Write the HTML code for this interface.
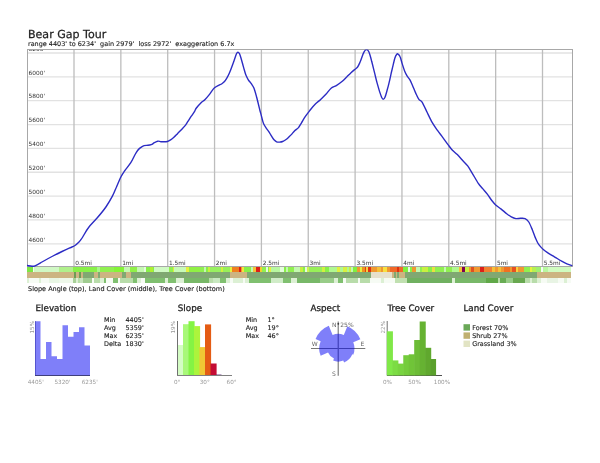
<!DOCTYPE html>
<html><head><meta charset="utf-8"><title>Bear Gap Tour</title>
<style>
html,body{margin:0;padding:0;background:#fff;width:600px;height:463px;overflow:hidden}
#wrap{width:600px;height:463px;will-change:transform}
svg{display:block}
text{font-family:'DejaVu Sans', 'Liberation Sans', sans-serif;text-rendering:geometricPrecision}
</style></head><body>
<div id="wrap"><svg width="600" height="463" viewBox="0 0 600 463">
<rect width="600" height="463" fill="#fff"/>

<text x="28" y="37.9" font-size="11.05" fill="#222" stroke="#222" stroke-width="0.25">Bear Gap Tour</text>
<text x="28" y="46" font-size="6.47" fill="#222" stroke="#222" stroke-width="0.12" xml:space="preserve">range 4403' to 6234'  gain 2979'  loss 2972'  exaggeration 6.7x</text>
<g stroke="#e2e2e2" stroke-width="1.3">
<line x1="27.5" y1="53.00" x2="572.5" y2="53.00"/>
<line x1="27.5" y1="76.85" x2="572.5" y2="76.85"/>
<line x1="27.5" y1="100.70" x2="572.5" y2="100.70"/>
<line x1="27.5" y1="124.55" x2="572.5" y2="124.55"/>
<line x1="27.5" y1="148.40" x2="572.5" y2="148.40"/>
<line x1="27.5" y1="172.25" x2="572.5" y2="172.25"/>
<line x1="27.5" y1="196.10" x2="572.5" y2="196.10"/>
<line x1="27.5" y1="219.95" x2="572.5" y2="219.95"/>
<line x1="27.5" y1="243.80" x2="572.5" y2="243.80"/>
</g>
<g stroke="#bdbdbd" stroke-width="1.3">
<line x1="74.00" y1="49.5" x2="74.00" y2="266.5"/>
<line x1="120.85" y1="49.5" x2="120.85" y2="266.5"/>
<line x1="167.70" y1="49.5" x2="167.70" y2="266.5"/>
<line x1="214.55" y1="49.5" x2="214.55" y2="266.5"/>
<line x1="261.40" y1="49.5" x2="261.40" y2="266.5"/>
<line x1="308.25" y1="49.5" x2="308.25" y2="266.5"/>
<line x1="355.10" y1="49.5" x2="355.10" y2="266.5"/>
<line x1="401.95" y1="49.5" x2="401.95" y2="266.5"/>
<line x1="448.80" y1="49.5" x2="448.80" y2="266.5"/>
<line x1="495.65" y1="49.5" x2="495.65" y2="266.5"/>
<line x1="542.50" y1="49.5" x2="542.50" y2="266.5"/>
</g>
<clipPath id="cp"><rect x="27" y="49.5" width="546" height="218"/></clipPath>
<g font-size="5.85" fill="#333" clip-path="url(#cp)">
<text x="28.6" y="50.70">6200'</text>
<text x="28.6" y="74.55">6000'</text>
<text x="28.6" y="98.40">5800'</text>
<text x="28.6" y="122.25">5600'</text>
<text x="28.6" y="146.10">5400'</text>
<text x="28.6" y="169.95">5200'</text>
<text x="28.6" y="193.80">5000'</text>
<text x="28.6" y="217.65">4800'</text>
<text x="28.6" y="241.50">4600'</text>
</g>
<g font-size="5.85" fill="#333">
<text x="75.30" y="264.7">0.5mi</text>
<text x="122.15" y="264.7">1mi</text>
<text x="169.00" y="264.7">1.5mi</text>
<text x="215.85" y="264.7">2mi</text>
<text x="262.70" y="264.7">2.5mi</text>
<text x="309.55" y="264.7">3mi</text>
<text x="356.40" y="264.7">3.5mi</text>
<text x="403.25" y="264.7">4mi</text>
<text x="450.10" y="264.7">4.5mi</text>
<text x="496.95" y="264.7">5mi</text>
<text x="543.80" y="264.7">5.5mi</text>
</g>
<rect x="27.5" y="49.5" width="545" height="217" fill="none" stroke="#a8a8a8" stroke-width="1"/>
<path d="M27.0,265.5 C27.8,265.6 30.7,266.1 32.0,266.2 C33.3,266.2 33.3,266.5 35.0,265.8 C36.7,265.1 39.2,263.6 42.0,262.0 C44.8,260.4 48.7,258.2 52.0,256.5 C55.3,254.8 58.7,253.1 62.0,251.5 C65.3,249.9 69.8,248.0 72.0,247.0 C74.2,246.0 73.8,246.3 75.0,245.5 C76.2,244.7 78.0,243.0 79.0,242.0 C80.0,241.0 80.4,240.3 81.1,239.4 C81.8,238.5 81.8,238.5 83.0,236.5 C84.2,234.5 86.2,230.6 88.6,227.5 C91.0,224.4 94.4,221.2 97.3,217.8 C100.2,214.4 103.4,210.6 105.9,207.0 C108.4,203.4 110.6,199.6 112.4,196.2 C114.2,192.8 115.3,189.7 116.7,186.4 C118.1,183.2 119.7,179.2 121.0,176.7 C122.3,174.2 122.7,173.6 124.3,171.3 C125.9,169.0 129.0,165.5 130.8,162.7 C132.6,159.9 134.0,156.5 135.1,154.5 C136.2,152.5 136.8,151.6 137.6,150.5 C138.4,149.4 139.1,148.7 140.2,147.9 C141.3,147.1 142.8,146.0 144.1,145.6 C145.4,145.2 146.8,145.5 148.0,145.3 C149.2,145.2 150.1,145.1 151.2,144.7 C152.3,144.3 153.3,143.3 154.4,142.7 C155.5,142.1 156.6,141.4 157.7,141.2 C158.8,141.0 159.8,141.6 160.9,141.7 C162.0,141.8 163.0,141.8 164.1,141.8 C165.2,141.8 166.3,141.8 167.4,141.5 C168.5,141.2 169.5,140.6 170.6,139.9 C171.7,139.2 172.7,138.4 173.9,137.3 C175.1,136.2 176.4,134.7 177.7,133.4 C179.0,132.1 180.4,130.8 181.6,129.5 C182.8,128.2 183.8,127.3 184.9,125.9 C186.0,124.5 187.0,122.7 188.1,121.1 C189.2,119.5 190.2,117.8 191.3,116.2 C192.4,114.6 193.8,112.7 194.6,111.4 C195.4,110.1 195.0,109.9 196.0,108.5 C197.0,107.1 199.1,104.7 200.6,103.2 C202.1,101.7 203.6,100.9 205.1,99.4 C206.6,97.9 208.2,96.0 209.7,94.1 C211.2,92.2 212.7,89.5 214.2,88.1 C215.7,86.6 217.2,86.1 218.5,85.4 C219.8,84.7 220.9,84.4 221.9,83.7 C222.9,83.0 223.6,82.5 224.5,81.5 C225.4,80.5 226.3,79.0 227.1,77.6 C227.9,76.2 228.6,74.9 229.3,73.3 C230.0,71.7 230.7,70.0 231.4,68.1 C232.1,66.2 232.9,64.0 233.6,62.1 C234.2,60.2 234.8,58.3 235.3,56.9 C235.8,55.5 236.2,54.3 236.6,53.5 C237.0,52.7 237.4,52.2 237.9,52.2 C238.4,52.2 238.9,52.6 239.4,53.5 C239.9,54.4 240.4,56.1 240.9,57.8 C241.4,59.5 242.0,61.7 242.6,63.8 C243.2,65.9 243.8,68.3 244.4,70.3 C245.0,72.2 245.4,73.9 246.1,75.5 C246.8,77.1 247.4,78.4 248.3,79.8 C249.2,81.2 250.4,82.3 251.3,83.7 C252.2,85.1 253.0,85.8 253.9,88.0 C254.8,90.2 255.6,93.3 256.6,97.0 C257.6,100.7 259.1,107.1 259.8,110.0 C260.5,112.9 260.6,112.7 261.0,114.3 C261.4,115.9 261.9,117.9 262.3,119.5 C262.7,121.1 263.0,122.4 263.6,123.8 C264.2,125.2 265.3,126.8 266.2,128.1 C267.1,129.4 267.9,130.3 268.8,131.6 C269.7,132.9 270.5,134.5 271.4,135.9 C272.3,137.3 273.1,138.8 274.0,139.8 C274.9,140.8 275.7,141.4 276.6,141.8 C277.5,142.2 278.6,142.2 279.6,142.1 C280.6,142.0 281.6,141.9 282.6,141.5 C283.6,141.1 284.7,140.5 285.7,139.8 C286.7,139.1 287.8,138.1 288.7,137.2 C289.6,136.3 290.3,135.7 291.3,134.6 C292.3,133.5 293.5,131.9 294.7,130.7 C295.9,129.5 297.4,128.9 298.5,127.6 C299.6,126.3 300.4,124.6 301.5,122.8 C302.6,121.0 303.7,118.9 305.2,116.7 C306.7,114.5 308.7,112.0 310.4,109.8 C312.1,107.6 313.9,105.5 315.6,103.8 C317.3,102.1 319.0,101.0 320.7,99.4 C322.4,97.8 324.2,96.2 325.9,94.3 C327.6,92.4 329.4,89.7 331.1,88.2 C332.8,86.8 334.4,86.8 336.3,85.6 C338.2,84.4 340.6,82.7 342.3,81.3 C344.0,79.9 345.2,78.4 346.7,77.0 C348.1,75.6 349.6,74.0 351.0,72.7 C352.4,71.4 353.9,70.2 355.0,69.3 C356.1,68.3 356.7,68.2 357.6,67.0 C358.5,65.8 359.3,63.8 360.2,61.8 C361.1,59.8 362.1,56.5 362.8,54.7 C363.6,52.9 364.1,51.6 364.7,50.8 C365.3,49.9 365.8,49.7 366.4,49.6 C366.9,49.5 367.4,49.5 368.0,50.4 C368.6,51.2 369.3,52.8 369.9,54.7 C370.5,56.6 371.1,58.9 371.8,61.8 C372.6,64.7 373.5,68.7 374.4,72.2 C375.3,75.7 376.1,79.4 377.0,82.6 C377.9,85.8 378.8,89.2 379.6,91.6 C380.4,94.0 381.0,95.9 381.6,97.2 C382.2,98.5 382.6,99.2 383.2,99.2 C383.8,99.2 384.5,98.4 385.1,96.9 C385.8,95.4 386.4,92.7 387.1,90.3 C387.8,87.9 388.5,85.3 389.1,82.6 C389.8,79.9 390.4,76.9 391.0,74.1 C391.6,71.3 392.4,68.4 393.0,65.7 C393.6,63.0 394.3,59.9 394.9,58.0 C395.5,56.1 396.3,54.9 396.8,54.3 C397.3,53.6 397.6,53.7 398.1,54.1 C398.7,54.5 399.5,55.2 400.1,56.7 C400.8,58.2 401.2,60.7 402.0,63.1 C402.8,65.5 403.7,68.7 404.6,70.9 C405.5,73.1 406.3,74.6 407.2,76.1 C408.1,77.6 408.9,78.2 409.8,79.7 C410.7,81.2 411.4,83.0 412.4,85.2 C413.4,87.4 414.5,90.5 415.6,92.9 C416.7,95.3 417.8,97.9 418.9,99.4 C419.9,100.9 420.5,99.8 421.9,101.9 C423.3,104.1 425.4,108.8 427.1,112.3 C428.8,115.8 430.6,119.7 432.3,122.7 C434.0,125.7 435.8,128.0 437.5,130.4 C439.2,132.8 441.0,135.0 442.7,137.3 C444.4,139.6 446.2,142.2 447.8,144.3 C449.4,146.4 450.6,148.3 452.2,150.0 C453.8,151.7 455.6,152.9 457.3,154.6 C459.0,156.3 460.8,158.4 462.5,160.3 C464.2,162.2 466.1,163.8 467.7,165.9 C469.3,168.0 470.2,169.9 472.0,172.8 C473.8,175.7 476.5,180.7 478.3,183.4 C480.1,186.1 481.4,187.1 482.9,188.9 C484.4,190.7 486.0,192.4 487.5,194.4 C489.0,196.4 490.6,199.0 492.0,200.8 C493.4,202.6 494.2,203.6 495.7,205.0 C497.2,206.4 499.4,207.7 501.2,209.1 C503.0,210.5 505.0,212.4 506.7,213.7 C508.4,215.0 509.8,216.0 511.3,216.8 C512.8,217.6 514.4,218.3 515.9,218.6 C517.4,218.8 519.0,218.3 520.5,218.3 C522.0,218.3 523.7,218.0 525.1,218.6 C526.5,219.2 527.6,220.1 528.8,222.0 C530.0,223.9 531.4,227.6 532.5,230.2 C533.6,232.8 534.4,235.5 535.3,237.6 C536.2,239.7 536.9,241.4 537.8,243.0 C538.7,244.6 539.7,245.8 540.7,246.9 C541.7,248.0 542.5,248.8 543.6,249.8 C544.7,250.8 546.0,251.7 547.5,252.7 C549.0,253.7 550.8,254.6 552.4,255.6 C554.0,256.6 555.6,257.5 557.2,258.5 C558.8,259.5 560.5,260.5 562.1,261.4 C563.7,262.3 565.3,263.2 566.9,263.9 C568.5,264.6 571.0,265.3 571.8,265.6" fill="none" stroke="#2c2cc4" stroke-width="1.4" stroke-linejoin="round" stroke-linecap="round" clip-path="url(#cp)"/>
<g shape-rendering="crispEdges">
<rect x="27.00" y="267.00" width="5.85" height="5.20" fill="#7ce844"/>
<rect x="32.80" y="267.00" width="1.25" height="5.20" fill="#f2fcf0"/>
<rect x="34.00" y="267.00" width="25.05" height="5.20" fill="#d0f8c4"/>
<rect x="59.00" y="267.00" width="14.05" height="5.20" fill="#b0f08c"/>
<rect x="73.00" y="267.00" width="24.05" height="5.20" fill="#88f048"/>
<rect x="97.00" y="267.00" width="3.05" height="5.20" fill="#a8f888"/>
<rect x="100.00" y="267.00" width="14.05" height="5.20" fill="#90f050"/>
<rect x="114.00" y="267.00" width="10.05" height="5.20" fill="#84f438"/>
<rect x="124.00" y="267.00" width="6.05" height="5.20" fill="#c4f8b0"/>
<rect x="130.00" y="267.00" width="7.05" height="5.20" fill="#90f048"/>
<rect x="137.00" y="267.00" width="7.05" height="5.20" fill="#c4f8b0"/>
<rect x="144.00" y="267.00" width="2.05" height="5.20" fill="#e4fcdc"/>
<rect x="146.00" y="267.00" width="4.05" height="5.20" fill="#88f048"/>
<rect x="150.00" y="267.00" width="3.05" height="5.20" fill="#b0f030"/>
<rect x="153.00" y="267.00" width="1.05" height="5.20" fill="#88f048"/>
<rect x="154.00" y="267.00" width="15.05" height="5.20" fill="#d0fac4"/>
<rect x="169.00" y="267.00" width="4.05" height="5.20" fill="#90f050"/>
<rect x="173.00" y="267.00" width="1.05" height="5.20" fill="#d8f040"/>
<rect x="174.00" y="267.00" width="12.05" height="5.20" fill="#c8fab8"/>
<rect x="186.00" y="267.00" width="3.05" height="5.20" fill="#e6f040"/>
<rect x="189.00" y="267.00" width="11.05" height="5.20" fill="#90f044"/>
<rect x="200.00" y="267.00" width="4.05" height="5.20" fill="#90f050"/>
<rect x="204.00" y="267.00" width="2.05" height="5.20" fill="#c4f8b0"/>
<rect x="206.00" y="267.00" width="2.05" height="5.20" fill="#88f048"/>
<rect x="208.00" y="267.00" width="2.05" height="5.20" fill="#c8f040"/>
<rect x="210.00" y="267.00" width="11.05" height="5.20" fill="#98f060"/>
<rect x="221.00" y="267.00" width="2.05" height="5.20" fill="#d0f040"/>
<rect x="223.00" y="267.00" width="7.05" height="5.20" fill="#98f058"/>
<rect x="230.00" y="267.00" width="2.05" height="5.20" fill="#e6f040"/>
<rect x="232.00" y="267.00" width="7.05" height="5.20" fill="#f08020"/>
<rect x="239.00" y="267.00" width="2.05" height="5.20" fill="#dc2018"/>
<rect x="241.00" y="267.00" width="1.05" height="5.20" fill="#f09830"/>
<rect x="242.00" y="267.00" width="2.05" height="5.20" fill="#f8e040"/>
<rect x="244.00" y="267.00" width="7.05" height="5.20" fill="#88f048"/>
<rect x="251.00" y="267.00" width="1.55" height="5.20" fill="#c4f8b0"/>
<rect x="252.50" y="267.00" width="3.55" height="5.20" fill="#f4c038"/>
<rect x="256.00" y="267.00" width="4.05" height="5.20" fill="#dc2018"/>
<rect x="260.00" y="267.00" width="2.05" height="5.20" fill="#f0d030"/>
<rect x="262.00" y="267.00" width="4.05" height="5.20" fill="#90f050"/>
<rect x="266.00" y="267.00" width="1.55" height="5.20" fill="#e4fcdc"/>
<rect x="267.50" y="267.00" width="1.55" height="5.20" fill="#88f048"/>
<rect x="269.00" y="267.00" width="2.05" height="5.20" fill="#e8f040"/>
<rect x="271.00" y="267.00" width="9.05" height="5.20" fill="#b8f8a0"/>
<rect x="280.00" y="267.00" width="4.05" height="5.20" fill="#e4fcdc"/>
<rect x="284.00" y="267.00" width="2.05" height="5.20" fill="#88f048"/>
<rect x="286.00" y="267.00" width="2.05" height="5.20" fill="#c4f8b0"/>
<rect x="288.00" y="267.00" width="6.05" height="5.20" fill="#90f050"/>
<rect x="294.00" y="267.00" width="6.05" height="5.20" fill="#c4f8b0"/>
<rect x="300.00" y="267.00" width="3.05" height="5.20" fill="#c8f040"/>
<rect x="303.00" y="267.00" width="2.05" height="5.20" fill="#88f048"/>
<rect x="305.00" y="267.00" width="2.05" height="5.20" fill="#e4fcdc"/>
<rect x="307.00" y="267.00" width="2.05" height="5.20" fill="#d0f050"/>
<rect x="309.00" y="267.00" width="13.05" height="5.20" fill="#98f058"/>
<rect x="322.00" y="267.00" width="3.05" height="5.20" fill="#d0f040"/>
<rect x="325.00" y="267.00" width="4.05" height="5.20" fill="#88f048"/>
<rect x="329.00" y="267.00" width="8.05" height="5.20" fill="#b0f890"/>
<rect x="337.00" y="267.00" width="3.05" height="5.20" fill="#e0f040"/>
<rect x="340.00" y="267.00" width="3.05" height="5.20" fill="#b0f890"/>
<rect x="343.00" y="267.00" width="4.05" height="5.20" fill="#d8f040"/>
<rect x="347.00" y="267.00" width="2.05" height="5.20" fill="#b0f890"/>
<rect x="349.00" y="267.00" width="2.05" height="5.20" fill="#c8f040"/>
<rect x="351.00" y="267.00" width="2.05" height="5.20" fill="#c4f8b0"/>
<rect x="353.00" y="267.00" width="4.05" height="5.20" fill="#80f040"/>
<rect x="357.00" y="267.00" width="3.05" height="5.20" fill="#f09830"/>
<rect x="360.00" y="267.00" width="2.05" height="5.20" fill="#e6f040"/>
<rect x="362.00" y="267.00" width="3.05" height="5.20" fill="#f09020"/>
<rect x="365.00" y="267.00" width="1.05" height="5.20" fill="#e04010"/>
<rect x="366.00" y="267.00" width="2.05" height="5.20" fill="#f8d040"/>
<rect x="368.00" y="267.00" width="3.05" height="5.20" fill="#e03010"/>
<rect x="371.00" y="267.00" width="6.05" height="5.20" fill="#f09830"/>
<rect x="377.00" y="267.00" width="4.05" height="5.20" fill="#f4c038"/>
<rect x="381.00" y="267.00" width="2.05" height="5.20" fill="#f09830"/>
<rect x="383.00" y="267.00" width="4.05" height="5.20" fill="#f8e040"/>
<rect x="387.00" y="267.00" width="3.05" height="5.20" fill="#f09830"/>
<rect x="390.00" y="267.00" width="7.05" height="5.20" fill="#f06828"/>
<rect x="397.00" y="267.00" width="2.05" height="5.20" fill="#e03010"/>
<rect x="399.00" y="267.00" width="4.05" height="5.20" fill="#f06828"/>
<rect x="403.00" y="267.00" width="5.05" height="5.20" fill="#80f040"/>
<rect x="408.00" y="267.00" width="2.05" height="5.20" fill="#e4fcdc"/>
<rect x="410.00" y="267.00" width="2.05" height="5.20" fill="#88f048"/>
<rect x="412.00" y="267.00" width="4.05" height="5.20" fill="#f09830"/>
<rect x="416.00" y="267.00" width="4.05" height="5.20" fill="#c4f8b0"/>
<rect x="420.00" y="267.00" width="2.05" height="5.20" fill="#90f050"/>
<rect x="422.00" y="267.00" width="6.05" height="5.20" fill="#c8f040"/>
<rect x="428.00" y="267.00" width="4.05" height="5.20" fill="#88f048"/>
<rect x="432.00" y="267.00" width="2.55" height="5.20" fill="#e8e040"/>
<rect x="434.50" y="267.00" width="9.55" height="5.20" fill="#90f050"/>
<rect x="444.00" y="267.00" width="2.05" height="5.20" fill="#c4f8b0"/>
<rect x="446.00" y="267.00" width="6.05" height="5.20" fill="#90f050"/>
<rect x="452.00" y="267.00" width="7.05" height="5.20" fill="#b0f890"/>
<rect x="459.00" y="267.00" width="3.05" height="5.20" fill="#f4c038"/>
<rect x="462.00" y="267.00" width="3.05" height="5.20" fill="#800050"/>
<rect x="465.00" y="267.00" width="4.05" height="5.20" fill="#c8f040"/>
<rect x="469.00" y="267.00" width="2.05" height="5.20" fill="#f09830"/>
<rect x="471.00" y="267.00" width="3.05" height="5.20" fill="#e05020"/>
<rect x="474.00" y="267.00" width="6.05" height="5.20" fill="#f09830"/>
<rect x="480.00" y="267.00" width="4.05" height="5.20" fill="#dc2018"/>
<rect x="484.00" y="267.00" width="8.05" height="5.20" fill="#f08030"/>
<rect x="492.00" y="267.00" width="3.05" height="5.20" fill="#f4c038"/>
<rect x="495.00" y="267.00" width="3.05" height="5.20" fill="#f09830"/>
<rect x="498.00" y="267.00" width="3.05" height="5.20" fill="#f4c038"/>
<rect x="501.00" y="267.00" width="3.05" height="5.20" fill="#f09830"/>
<rect x="504.00" y="267.00" width="6.05" height="5.20" fill="#f07020"/>
<rect x="510.00" y="267.00" width="2.05" height="5.20" fill="#f09830"/>
<rect x="512.00" y="267.00" width="4.05" height="5.20" fill="#e85020"/>
<rect x="516.00" y="267.00" width="2.05" height="5.20" fill="#f8d040"/>
<rect x="518.00" y="267.00" width="6.05" height="5.20" fill="#f09830"/>
<rect x="524.00" y="267.00" width="6.05" height="5.20" fill="#90f050"/>
<rect x="530.00" y="267.00" width="2.05" height="5.20" fill="#e8f040"/>
<rect x="532.00" y="267.00" width="4.05" height="5.20" fill="#b8f050"/>
<rect x="536.00" y="267.00" width="5.05" height="5.20" fill="#a0f070"/>
<rect x="541.00" y="267.00" width="1.55" height="5.20" fill="#f2fcf0"/>
<rect x="542.50" y="267.00" width="5.55" height="5.20" fill="#b8f8a0"/>
<rect x="548.00" y="267.00" width="23.05" height="5.20" fill="#d0fcc0"/>
<rect x="27.00" y="272.20" width="46.55" height="5.30" fill="#ccb482"/>
<rect x="73.50" y="272.20" width="2.05" height="5.30" fill="#6d9c55"/>
<rect x="75.50" y="272.20" width="3.55" height="5.30" fill="#ccb482"/>
<rect x="79.00" y="272.20" width="2.05" height="5.30" fill="#6d9c55"/>
<rect x="81.00" y="272.20" width="2.05" height="5.30" fill="#ccb482"/>
<rect x="83.00" y="272.20" width="11.05" height="5.30" fill="#80a872"/>
<rect x="94.00" y="272.20" width="3.55" height="5.30" fill="#ccb482"/>
<rect x="97.50" y="272.20" width="2.55" height="5.30" fill="#80a872"/>
<rect x="100.00" y="272.20" width="22.05" height="5.30" fill="#ccb482"/>
<rect x="122.00" y="272.20" width="4.05" height="5.30" fill="#80a872"/>
<rect x="126.00" y="272.20" width="5.05" height="5.30" fill="#ccb482"/>
<rect x="131.00" y="272.20" width="99.05" height="5.30" fill="#80a872"/>
<rect x="230.00" y="272.20" width="16.55" height="5.30" fill="#ccb482"/>
<rect x="246.50" y="272.20" width="124.55" height="5.30" fill="#80a872"/>
<rect x="371.00" y="272.20" width="21.05" height="5.30" fill="#e6e0cc"/>
<rect x="392.00" y="272.20" width="2.05" height="5.30" fill="#ccb482"/>
<rect x="394.00" y="272.20" width="1.55" height="5.30" fill="#80a872"/>
<rect x="395.50" y="272.20" width="1.55" height="5.30" fill="#ccb482"/>
<rect x="397.00" y="272.20" width="2.05" height="5.30" fill="#80a872"/>
<rect x="399.00" y="272.20" width="6.05" height="5.30" fill="#ccb482"/>
<rect x="405.00" y="272.20" width="132.05" height="5.30" fill="#80a872"/>
<rect x="537.00" y="272.20" width="34.05" height="5.30" fill="#ccb482"/>
<rect x="27.00" y="277.60" width="2.05" height="5.30" fill="#dcf0d4"/>
<rect x="29.00" y="277.60" width="9.55" height="5.30" fill="#f6fbf4"/>
<rect x="38.50" y="277.60" width="2.05" height="5.30" fill="#dcf0d4"/>
<rect x="40.50" y="277.60" width="8.55" height="5.30" fill="#f6fbf4"/>
<rect x="49.00" y="277.60" width="10.05" height="5.30" fill="#e8f6e4"/>
<rect x="59.00" y="277.60" width="14.05" height="5.30" fill="#eef8ea"/>
<rect x="73.00" y="277.60" width="3.05" height="5.30" fill="#a8d098"/>
<rect x="76.00" y="277.60" width="2.05" height="5.30" fill="#dcf0d4"/>
<rect x="78.00" y="277.60" width="2.05" height="5.30" fill="#b8dcaa"/>
<rect x="80.00" y="277.60" width="3.05" height="5.30" fill="#c8e4bc"/>
<rect x="83.00" y="277.60" width="9.05" height="5.30" fill="#a0cc90"/>
<rect x="92.00" y="277.60" width="2.05" height="5.30" fill="#f6fbf4"/>
<rect x="94.00" y="277.60" width="6.05" height="5.30" fill="#b8dcaa"/>
<rect x="100.00" y="277.60" width="4.05" height="5.30" fill="#dcf0d4"/>
<rect x="104.00" y="277.60" width="1.55" height="5.30" fill="#80c070"/>
<rect x="105.50" y="277.60" width="7.55" height="5.30" fill="#f6fbf4"/>
<rect x="113.00" y="277.60" width="5.05" height="5.30" fill="#80c070"/>
<rect x="118.00" y="277.60" width="2.05" height="5.30" fill="#f6fbf4"/>
<rect x="120.00" y="277.60" width="13.05" height="5.30" fill="#b8dcaa"/>
<rect x="133.00" y="277.60" width="4.05" height="5.30" fill="#80c070"/>
<rect x="137.00" y="277.60" width="4.05" height="5.30" fill="#dcf0d4"/>
<rect x="141.00" y="277.60" width="3.55" height="5.30" fill="#f6fbf4"/>
<rect x="144.50" y="277.60" width="20.55" height="5.30" fill="#80c070"/>
<rect x="165.00" y="277.60" width="3.05" height="5.30" fill="#dcf0d4"/>
<rect x="168.00" y="277.60" width="8.05" height="5.30" fill="#80c070"/>
<rect x="176.00" y="277.60" width="8.05" height="5.30" fill="#dcf0d4"/>
<rect x="184.00" y="277.60" width="25.05" height="5.30" fill="#78b868"/>
<rect x="209.00" y="277.60" width="4.05" height="5.30" fill="#b8dcaa"/>
<rect x="213.00" y="277.60" width="7.05" height="5.30" fill="#c8e8c0"/>
<rect x="220.00" y="277.60" width="6.05" height="5.30" fill="#80c070"/>
<rect x="226.00" y="277.60" width="4.05" height="5.30" fill="#dcf0d4"/>
<rect x="230.00" y="277.60" width="3.05" height="5.30" fill="#f6fbf4"/>
<rect x="233.00" y="277.60" width="10.05" height="5.30" fill="#dcf0d4"/>
<rect x="243.00" y="277.60" width="2.05" height="5.30" fill="#f6fbf4"/>
<rect x="245.00" y="277.60" width="4.05" height="5.30" fill="#dcf0d4"/>
<rect x="249.00" y="277.60" width="12.05" height="5.30" fill="#80c070"/>
<rect x="261.00" y="277.60" width="10.05" height="5.30" fill="#80c070"/>
<rect x="271.00" y="277.60" width="12.05" height="5.30" fill="#d0ecc8"/>
<rect x="283.00" y="277.60" width="8.05" height="5.30" fill="#80c070"/>
<rect x="291.00" y="277.60" width="6.05" height="5.30" fill="#dcf0d4"/>
<rect x="297.00" y="277.60" width="23.05" height="5.30" fill="#78b868"/>
<rect x="320.00" y="277.60" width="14.05" height="5.30" fill="#98cc88"/>
<rect x="334.00" y="277.60" width="4.05" height="5.30" fill="#dcf0d4"/>
<rect x="338.00" y="277.60" width="5.05" height="5.30" fill="#80c070"/>
<rect x="343.00" y="277.60" width="3.05" height="5.30" fill="#f6fbf4"/>
<rect x="346.00" y="277.60" width="12.05" height="5.30" fill="#b8dcaa"/>
<rect x="358.00" y="277.60" width="2.05" height="5.30" fill="#f6fbf4"/>
<rect x="360.00" y="277.60" width="10.05" height="5.30" fill="#b8dcaa"/>
<rect x="370.00" y="277.60" width="11.05" height="5.30" fill="#f6fbf4"/>
<rect x="381.00" y="277.60" width="3.05" height="5.30" fill="#dcf0d4"/>
<rect x="384.00" y="277.60" width="11.05" height="5.30" fill="#f6fbf4"/>
<rect x="395.00" y="277.60" width="12.05" height="5.30" fill="#c0e0b0"/>
<rect x="407.00" y="277.60" width="45.05" height="5.30" fill="#70b060"/>
<rect x="452.00" y="277.60" width="3.05" height="5.30" fill="#dcf0d4"/>
<rect x="455.00" y="277.60" width="31.05" height="5.30" fill="#78b868"/>
<rect x="486.00" y="277.60" width="12.05" height="5.30" fill="#60a848"/>
<rect x="498.00" y="277.60" width="2.05" height="5.30" fill="#b8dcaa"/>
<rect x="500.00" y="277.60" width="6.05" height="5.30" fill="#68ac54"/>
<rect x="506.00" y="277.60" width="7.05" height="5.30" fill="#98cc88"/>
<rect x="513.00" y="277.60" width="12.05" height="5.30" fill="#68a850"/>
<rect x="525.00" y="277.60" width="5.05" height="5.30" fill="#b8dcaa"/>
<rect x="530.00" y="277.60" width="2.05" height="5.30" fill="#dcf0d4"/>
<rect x="532.00" y="277.60" width="5.05" height="5.30" fill="#b8dcaa"/>
<rect x="537.00" y="277.60" width="4.05" height="5.30" fill="#dcf0d4"/>
<rect x="541.00" y="277.60" width="6.05" height="5.30" fill="#f6fbf4"/>
<rect x="547.00" y="277.60" width="10.55" height="5.30" fill="#e8f4e4"/>
<rect x="557.50" y="277.60" width="6.55" height="5.30" fill="#f6fbf4"/>
<rect x="564.00" y="277.60" width="2.75" height="5.30" fill="#dcf0d4"/>
<rect x="566.70" y="277.60" width="4.35" height="5.30" fill="#f6fbf4"/>
</g>
<text x="28" y="290.6" font-size="6.52" fill="#222" stroke="#222" stroke-width="0.12">Slope Angle (top), Land Cover (middle), Tree Cover (bottom)</text>
<g font-size="8.75" fill="#222" stroke="#222" stroke-width="0.28">
<text x="35.6" y="310.5">Elevation</text>
<text x="177.8" y="310.5">Slope</text>
<text x="310.5" y="310.5">Aspect</text>
<text x="387.5" y="310.5">Tree Cover</text>
<text x="463.5" y="310.5">Land Cover</text>
</g>
<line x1="35.5" y1="321" x2="35.5" y2="375.5" stroke="#aaa" stroke-width="1"/>
<line x1="35" y1="375.5" x2="90" y2="375.5" stroke="#555" stroke-width="1"/>
<path d="M35,375.5 L35.00,321.20 L40.50,321.20 L40.50,358.90 L46.00,358.90 L46.00,342.00 L51.50,342.00 L51.50,356.30 L57.00,356.30 L57.00,358.90 L62.50,358.90 L62.50,325.20 L68.00,325.20 L68.00,336.80 L73.50,336.80 L73.50,332.10 L79.00,332.10 L79.00,327.30 L84.50,327.30 L84.50,345.40 L90.00,345.40 L90,375.5 Z" fill="#0000f4" fill-opacity="0.5"/>
<rect x="177.50" y="345.00" width="6.10" height="30.50" fill="#d4fcc4"/>
<rect x="183.00" y="324.20" width="6.10" height="51.30" fill="#a8f878"/>
<rect x="188.50" y="321.20" width="6.10" height="54.30" fill="#84f444"/>
<rect x="194.00" y="326.10" width="6.10" height="49.40" fill="#acf43c"/>
<rect x="199.50" y="347.10" width="6.10" height="28.40" fill="#f0c834"/>
<rect x="205.00" y="324.40" width="6.10" height="51.10" fill="#e45c14"/>
<rect x="210.50" y="363.50" width="6.10" height="12.00" fill="#c40c34"/>
<rect x="216.00" y="374.60" width="5.50" height="0.90" fill="#501870"/>
<line x1="177.5" y1="321" x2="177.5" y2="375.5" stroke="#707070" stroke-width="1"/>
<line x1="177" y1="375.5" x2="232" y2="375.5" stroke="#808080" stroke-width="1"/>
<line x1="387.2" y1="321" x2="387.2" y2="375.5" stroke="#707070" stroke-width="1"/>
<line x1="387" y1="375.5" x2="442" y2="375.5" stroke="#505050" stroke-width="1"/>
<rect x="386.85" y="331.30" width="6.07" height="44.20" fill="#80e848"/>
<rect x="392.32" y="360.40" width="6.07" height="15.10" fill="#7cdc44"/>
<rect x="397.79" y="363.60" width="6.07" height="11.90" fill="#78d440"/>
<rect x="403.26" y="355.20" width="6.07" height="20.30" fill="#74cc3c"/>
<rect x="408.73" y="354.30" width="6.07" height="21.20" fill="#70c438"/>
<rect x="414.20" y="340.00" width="6.07" height="35.50" fill="#6cbc36"/>
<rect x="419.67" y="321.50" width="6.07" height="54.00" fill="#66b232"/>
<rect x="425.14" y="347.80" width="6.07" height="27.70" fill="#60a82e"/>
<rect x="430.61" y="359.00" width="5.47" height="16.50" fill="#5aa02c"/>
<g font-size="5.6" fill="#999" text-anchor="end">
<text transform="translate(33.6,321) rotate(-90)">15%</text>
<text transform="translate(175,321) rotate(-90)">19%</text>
<text transform="translate(385,321) rotate(-90)">22%</text>
</g>
<g font-size="5.7" fill="#999" text-anchor="middle">
<text x="35.7" y="384">4405'</text>
<text x="62.5" y="384">5320'</text>
<text x="89.7" y="384">6235'</text>
<text x="177.2" y="384">0°</text>
<text x="204.7" y="384">30°</text>
<text x="231.6" y="384">60°</text>
<text x="387.5" y="384">0%</text>
<text x="414.5" y="384">50%</text>
<text x="442.0" y="384">100%</text>
</g>
<g font-size="6.45" fill="#222" stroke="#222" stroke-width="0.12">
<text x="104" y="321.5">Min</text><text x="125.5" y="321.5">4405'</text>
<text x="104" y="329.6">Avg</text><text x="125.5" y="329.6">5359'</text>
<text x="104" y="337.7">Max</text><text x="125.5" y="337.7">6235'</text>
<text x="104" y="345.8">Delta</text><text x="125.5" y="345.8">1830'</text>
<text x="245.7" y="321.5">Min</text><text x="267.5" y="321.5">1°</text>
<text x="245.7" y="329.6">Avg</text><text x="267.5" y="329.6">19°</text>
<text x="245.7" y="337.7">Max</text><text x="267.5" y="337.7">46°</text>
</g>
<line x1="311" y1="348.5" x2="365.3" y2="348.5" stroke="#777" stroke-width="1.2"/>
<line x1="338.25" y1="321.5" x2="338.25" y2="375.8" stroke="#888" stroke-width="1.3"/>
<path d="M332.61,334.91 A14.60,14.60 0 0 1 343.79,334.91 L347.38,326.23 A24.00,24.00 0 0 1 360.37,339.22 L353.26,342.16 A16.30,16.30 0 0 1 353.26,354.64 L352.34,354.26 A15.30,15.30 0 0 1 344.06,362.54 L343.25,360.60 A13.20,13.20 0 0 1 333.15,360.60 L333.99,358.56 A11.00,11.00 0 0 1 328.04,352.61 L320.65,355.67 A19.00,19.00 0 0 1 320.65,341.13 L315.56,339.02 A24.50,24.50 0 0 1 328.82,325.76 Z" fill="#0000f4" fill-opacity="0.5"/>
<circle cx="338.3" cy="323.8" r="0.9" fill="#333"/>
<g font-size="6" fill="#666">
<text x="332" y="327">N</text><text x="340.3" y="327">25%</text>
<text x="311.8" y="346.4">W</text><text x="360.4" y="346.4">E</text>
<text x="332" y="375.8">S</text>
</g>
<rect x="463.5" y="324.2" width="6.5" height="6.4" fill="#6aa858"/>
<rect x="463.5" y="332.4" width="6.5" height="6.4" fill="#c0b070"/>
<rect x="463.5" y="340.6" width="6.5" height="6.4" fill="#e2e4c4"/>
<g font-size="6.45" fill="#222" stroke="#222" stroke-width="0.12">
<text x="472.2" y="329.6">Forest 70%</text>
<text x="472.2" y="337.8">Shrub 27%</text>
<text x="472.2" y="346">Grassland 3%</text>
</g>
</svg></div></body></html>
